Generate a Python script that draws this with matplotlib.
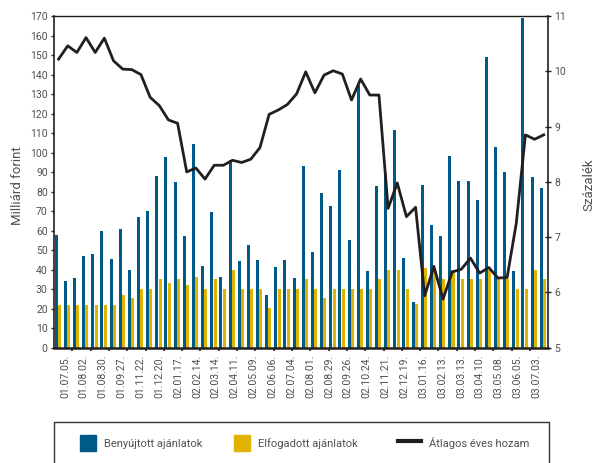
import numpy as np
import matplotlib
matplotlib.use("Agg")
import matplotlib.pyplot as plt
from matplotlib.patches import Patch, Rectangle
from matplotlib.lines import Line2D

plt.rcParams["font.family"] = ["Roboto", "DejaVu Sans"]

# tick labels (one for every second auction)
date_labels = [
    "01.07.05.", "01.08.02.", "01.08.30.", "01.09.27.", "01.11.22.", "01.12.20.",
    "02.01.17.", "02.02.14.", "02.03.14.", "02.04.11.", "02.05.09.", "02.06.06.",
    "02.07.04.", "02.08.01.", "02.08.29.", "02.09.26.", "02.10.24.", "02.11.21.",
    "02.12.19.", "03.01.16.", "03.02.13.", "03.03.13.", "03.04.10.", "03.05.08.",
    "03.06.05.", "03.07.03.",
]

# billion HUF
submitted = [
    58, 34, 35.5, 47, 48, 60, 45.5, 61, 40, 67, 70, 88, 97.5, 85, 57, 104.5,
    42, 69.5, 36, 96, 44.5, 52.5, 45, 27, 41.5, 45, 35.5, 93, 49, 79.5, 72.5,
    91, 55, 134.5, 39.5, 83, 89, 111.5, 46, 23.5, 83.5, 63, 57, 98, 85.5, 85.5,
    75.5, 149, 103, 90, 39.5, 169, 87.5, 82,
]
accepted = [
    22, 22, 22, 22, 22, 22, 22, 27, 25.5, 30, 30, 35, 33, 35, 32, 36,
    30, 35, 30, 40, 30, 30, 30, 20.5, 30, 30, 30, 35, 30, 25.5, 30,
    30, 30, 30, 30, 35, 40, 40, 30, 22.5, 41, 40, 35, 40, 35, 35,
    35, 40, 35, 35, 30, 30, 40, 35,
]
# percent
avg_yield = [
    10.22, 10.46, 10.34, 10.61, 10.34, 10.60, 10.19, 10.04, 10.03, 9.94, 9.53,
    9.38, 9.12, 9.06, 8.18, 8.25, 8.05, 8.30, 8.30, 8.39, 8.35, 8.41, 8.62,
    9.22, 9.30, 9.40, 9.59, 9.99, 9.61, 9.93, 10.01, 9.95, 9.48, 9.86, 9.57,
    9.57, 7.52, 7.98, 7.37, 7.54, 5.94, 6.47, 5.88, 6.37, 6.42, 6.62, 6.35,
    6.45, 6.26, 6.27, 7.25, 8.85, 8.77, 8.85,
]

blue = "#005a87"
gold = "#dfb300"
ink = "#231f20"
grey = "#505050"

W, H = 597, 463
fig = plt.figure(figsize=(W / 100, H / 100), dpi=100)
ax = fig.add_axes([54 / W, 1 - 347.7 / H, 494.3 / W, 331.7 / H])

x = np.arange(len(submitted))
ax.bar(x - 0.27, submitted, width=0.33, color=blue, zorder=2)
ax.bar(x + 0.09, accepted, width=0.33, color=gold, zorder=2)
ax.set_xlim(-0.5, len(x) - 0.5)
ax.set_ylim(0, 170)
ax.set_yticks(range(0, 171, 10))
ax.tick_params(axis="y", direction="out", length=2.5, width=1, colors=ink,
               labelcolor=grey, labelsize=7.5, pad=2)

ax.set_xticks(np.linspace(0.7, 52.2, len(date_labels)))
ax.set_xticklabels(date_labels, rotation=90, fontsize=7.5, color=grey)
ax.tick_params(axis="x", which="major", length=0, pad=5)
ax.set_xticks(np.arange(1.5, len(x) - 1, 2), minor=True)
ax.tick_params(axis="x", which="minor", direction="out", length=2.5, width=1.2,
               color=ink)

for side, lw in (("left", 1.2), ("bottom", 1.8), ("top", 1.0), ("right", 1.2)):
    ax.spines[side].set_color(ink)
    ax.spines[side].set_linewidth(lw)

ax.set_ylabel("Milliárd forint", fontsize=9.5, color=grey)
ax.yaxis.set_label_coords(-0.061, 0.49)

ax2 = ax.twinx()
ax2.plot(x, avg_yield, color=ink, lw=2.0, zorder=3)
ax2.set_ylim(5, 11)
ax2.set_yticks(range(5, 12))
ax2.tick_params(axis="y", direction="inout", length=5, width=1, colors=ink,
                labelcolor=grey, labelsize=7.5, pad=2)
ax2.set_ylabel("Százalék", fontsize=9.5, color=grey)
ax2.yaxis.set_label_coords(1.069, 0.49)
for side in ("left", "bottom", "top", "right"):
    ax2.spines[side].set_visible(False)

# legend frame, runs off the bottom of the picture
fig.patches.append(Rectangle((54 / W, -0.1), 494.5 / W, 0.1 + (H - 422.3) / H,
                             transform=fig.transFigure, fill=False,
                             edgecolor="#333333", linewidth=1.0, clip_on=False))

entries = [
    (Patch(color=blue), "Benyújtott ajánlatok", 80, 1.45),
    (Patch(color=gold), "Elfogadott ajánlatok", 234, 1.45),
    (Line2D([], [], color=ink, lw=3), "Átlagos éves hozam", 398, 2.1),
]
for handle, text, left, hl in entries:
    fig.legend([handle], [text], loc="center left",
               bbox_to_anchor=(left / W, 1 - 443 / H), frameon=False,
               borderpad=0, borderaxespad=0, handlelength=hl, handleheight=1.75,
               handletextpad=0.7, fontsize=8, labelcolor=grey)

fig.savefig("out.png", dpi=100)
